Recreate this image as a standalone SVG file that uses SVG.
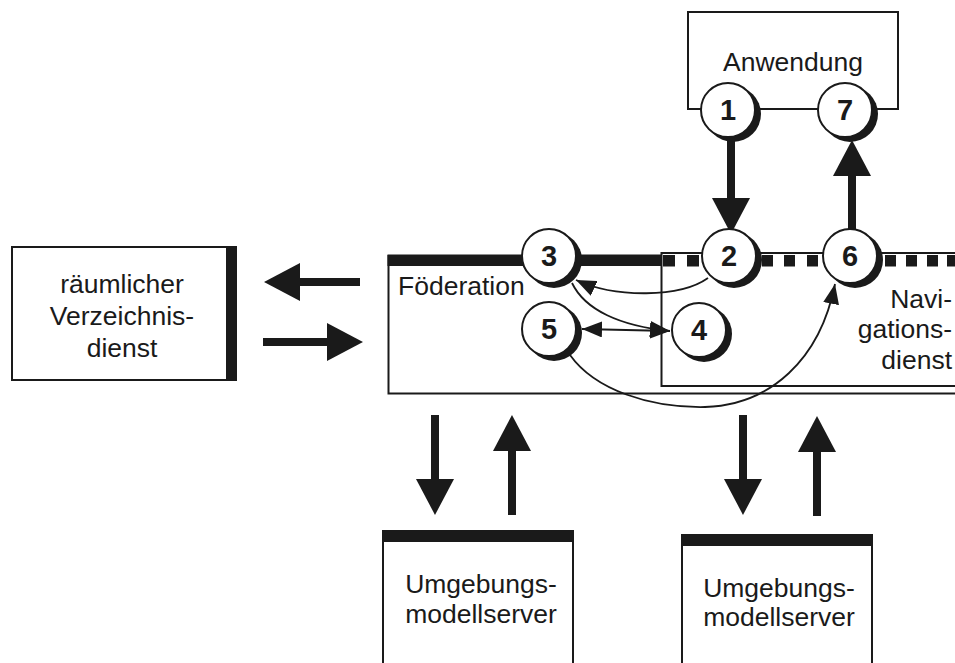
<svg xmlns="http://www.w3.org/2000/svg" width="955" height="663" viewBox="0 0 955 663">
  <defs>
    <style>
      .box { fill: #fff; stroke: #1a1a1a; stroke-width: 2; }
      .edge { fill: none; stroke: #1a1a1a; stroke-width: 2; }
      .bar { fill: #1a1a1a; }
      .label { font-family: "Liberation Sans", Arial, sans-serif; font-size: 26.5px; fill: #1a1a1a; }
      .num { font-family: "Liberation Sans", Arial, sans-serif; font-size: 29px; font-weight: bold; fill: #1a1a1a; text-anchor: middle; }
      .thick { fill: none; stroke: #1a1a1a; stroke-width: 8; }
      .thin { fill: none; stroke: #1a1a1a; stroke-width: 1.8; }
      .shadow { fill: #1a1a1a; }
      .disc { fill: #fff; stroke: #1a1a1a; stroke-width: 2; }
    </style>
    <marker id="bigHead" markerUnits="userSpaceOnUse" markerWidth="36" markerHeight="38" refX="2" refY="19" orient="auto">
      <path d="M0,0 L36,19 L0,38 z" fill="#1a1a1a"/>
    </marker>
    <marker id="smallHead" markerUnits="userSpaceOnUse" markerWidth="20" markerHeight="16" refX="20" refY="8" orient="auto">
      <path d="M0,0 L20,8 L0,16 z" fill="#1a1a1a"/>
    </marker>
    <marker id="smallHeadStart" markerUnits="userSpaceOnUse" markerWidth="20" markerHeight="16" refX="0" refY="8" orient="auto">
      <path d="M20,0 L0,8 L20,16 z" fill="#1a1a1a"/>
    </marker>
  </defs>

  <!-- Anwendung -->
  <g id="anwendung">
    <rect class="box" x="688" y="12" width="210" height="97"/>
    <text class="label" x="793" y="71" text-anchor="middle">Anwendung</text>
  </g>

  <!-- spatial directory service -->
  <g id="verzeichnisdienst">
    <rect class="box" x="12" y="247" width="220" height="133"/>
    <rect class="bar" x="226" y="246" width="11" height="135"/>
    <text class="label" x="122" y="293" text-anchor="middle">räumlicher</text>
    <text class="label" x="122" y="325" text-anchor="middle">Verzeichnis-</text>
    <text class="label" x="122" y="357" text-anchor="middle">dienst</text>
  </g>

  <!-- federation, open to the right -->
  <g id="foederation">
    <path class="edge" d="M388.5,255 V393.5 H955" stroke-width="2.5"/>
    <rect class="bar" x="387.5" y="254.5" width="274" height="11.5"/>
    <text class="label" x="398" y="295">Föderation</text>
  </g>

  <!-- navigation service, open to the right -->
  <g id="navigationsdienst">
    <path class="edge" d="M955,253 H661.5 V386 H955" stroke-width="1.6"/>
    <g class="bar">
      <rect x="663" y="255" width="12" height="11.5"/>
      <rect x="687" y="255" width="12" height="11.5"/>
      <rect x="762" y="255" width="11" height="11.5"/>
      <rect x="784" y="255" width="11" height="11.5"/>
      <rect x="807" y="255" width="11" height="11.5"/>
      <rect x="885" y="255" width="11" height="11.5"/>
      <rect x="906" y="255" width="11" height="11.5"/>
      <rect x="927" y="255" width="11" height="11.5"/>
      <rect x="947" y="255" width="11" height="11.5"/>
    </g>
    <text class="label" x="952" y="308" text-anchor="end">Navi-</text>
    <text class="label" x="952" y="338" text-anchor="end">gations-</text>
    <text class="label" x="952" y="369" text-anchor="end">dienst</text>
  </g>

  <!-- environment model servers, open at the bottom -->
  <g id="umgebungsmodellserver-1">
    <path class="edge" d="M383,540 V663 M573,540 V663"/>
    <rect class="bar" x="382" y="530" width="192" height="12"/>
    <text class="label" x="481" y="593" text-anchor="middle">Umgebungs-</text>
    <text class="label" x="481" y="623" text-anchor="middle">modellserver</text>
  </g>
  <g id="umgebungsmodellserver-2">
    <path class="edge" d="M682,544 V663 M872,544 V663"/>
    <rect class="bar" x="681" y="534" width="192" height="12"/>
    <text class="label" x="779" y="597" text-anchor="middle">Umgebungs-</text>
    <text class="label" x="779" y="626" text-anchor="middle">modellserver</text>
  </g>

  <!-- connectors -->
  <g id="connectors">
    <!-- directory service exchange -->
    <line class="thick" x1="360" y1="282" x2="298" y2="282" marker-end="url(#bigHead)"/>
    <line class="thick" x1="263" y1="342" x2="329" y2="342" marker-end="url(#bigHead)"/>
    <!-- model server exchange -->
    <line class="thick" x1="435" y1="415" x2="435" y2="481" marker-end="url(#bigHead)"/>
    <line class="thick" x1="512" y1="515" x2="512" y2="449" marker-end="url(#bigHead)"/>
    <line class="thick" x1="743" y1="415" x2="743" y2="481" marker-end="url(#bigHead)"/>
    <line class="thick" x1="817" y1="516" x2="817" y2="450" marker-end="url(#bigHead)"/>
    <!-- application request / response -->
    <line class="thick" x1="731" y1="136" x2="731" y2="200" marker-end="url(#bigHead)"/>
    <line class="thick" x1="852" y1="230" x2="852" y2="174" marker-end="url(#bigHead)"/>
    <!-- internal steps -->
    <path class="thin" d="M708,278 C680,298 615,298 576,280" marker-end="url(#smallHead)"/>
    <path class="thin" d="M572,283 C585,310 620,326 670,331" marker-end="url(#smallHead)"/>
    <line class="thin" x1="582" y1="329" x2="670" y2="331" marker-start="url(#smallHeadStart)" marker-end="url(#smallHead)"/>
    <path class="thin" d="M570,355 C595,390 650,408 705,407 C770,405 820,360 835,284" marker-end="url(#smallHead)"/>
  </g>

  <!-- numbered steps -->
  <g id="step-1"><circle class="shadow" cx="733" cy="114" r="28"/><circle class="disc" cx="728" cy="110" r="27"/><text class="num" x="728" y="120">1</text></g>
  <g id="step-7"><circle class="shadow" cx="850" cy="114" r="28"/><circle class="disc" cx="845" cy="110" r="27"/><text class="num" x="845" y="120">7</text></g>
  <g id="step-2"><circle class="shadow" cx="734" cy="260" r="28"/><circle class="disc" cx="729" cy="256" r="27"/><text class="num" x="729" y="266">2</text></g>
  <g id="step-6"><circle class="shadow" cx="855" cy="260" r="28"/><circle class="disc" cx="850" cy="256" r="27"/><text class="num" x="850" y="266">6</text></g>
  <g id="step-3"><circle class="shadow" cx="554" cy="260" r="28"/><circle class="disc" cx="549" cy="256" r="27"/><text class="num" x="549" y="266">3</text></g>
  <g id="step-5"><circle class="shadow" cx="554" cy="333" r="28"/><circle class="disc" cx="549" cy="329" r="27"/><text class="num" x="549" y="339">5</text></g>
  <g id="step-4"><circle class="shadow" cx="704" cy="334" r="28"/><circle class="disc" cx="699" cy="330" r="27"/><text class="num" x="699" y="340">4</text></g>
</svg>
